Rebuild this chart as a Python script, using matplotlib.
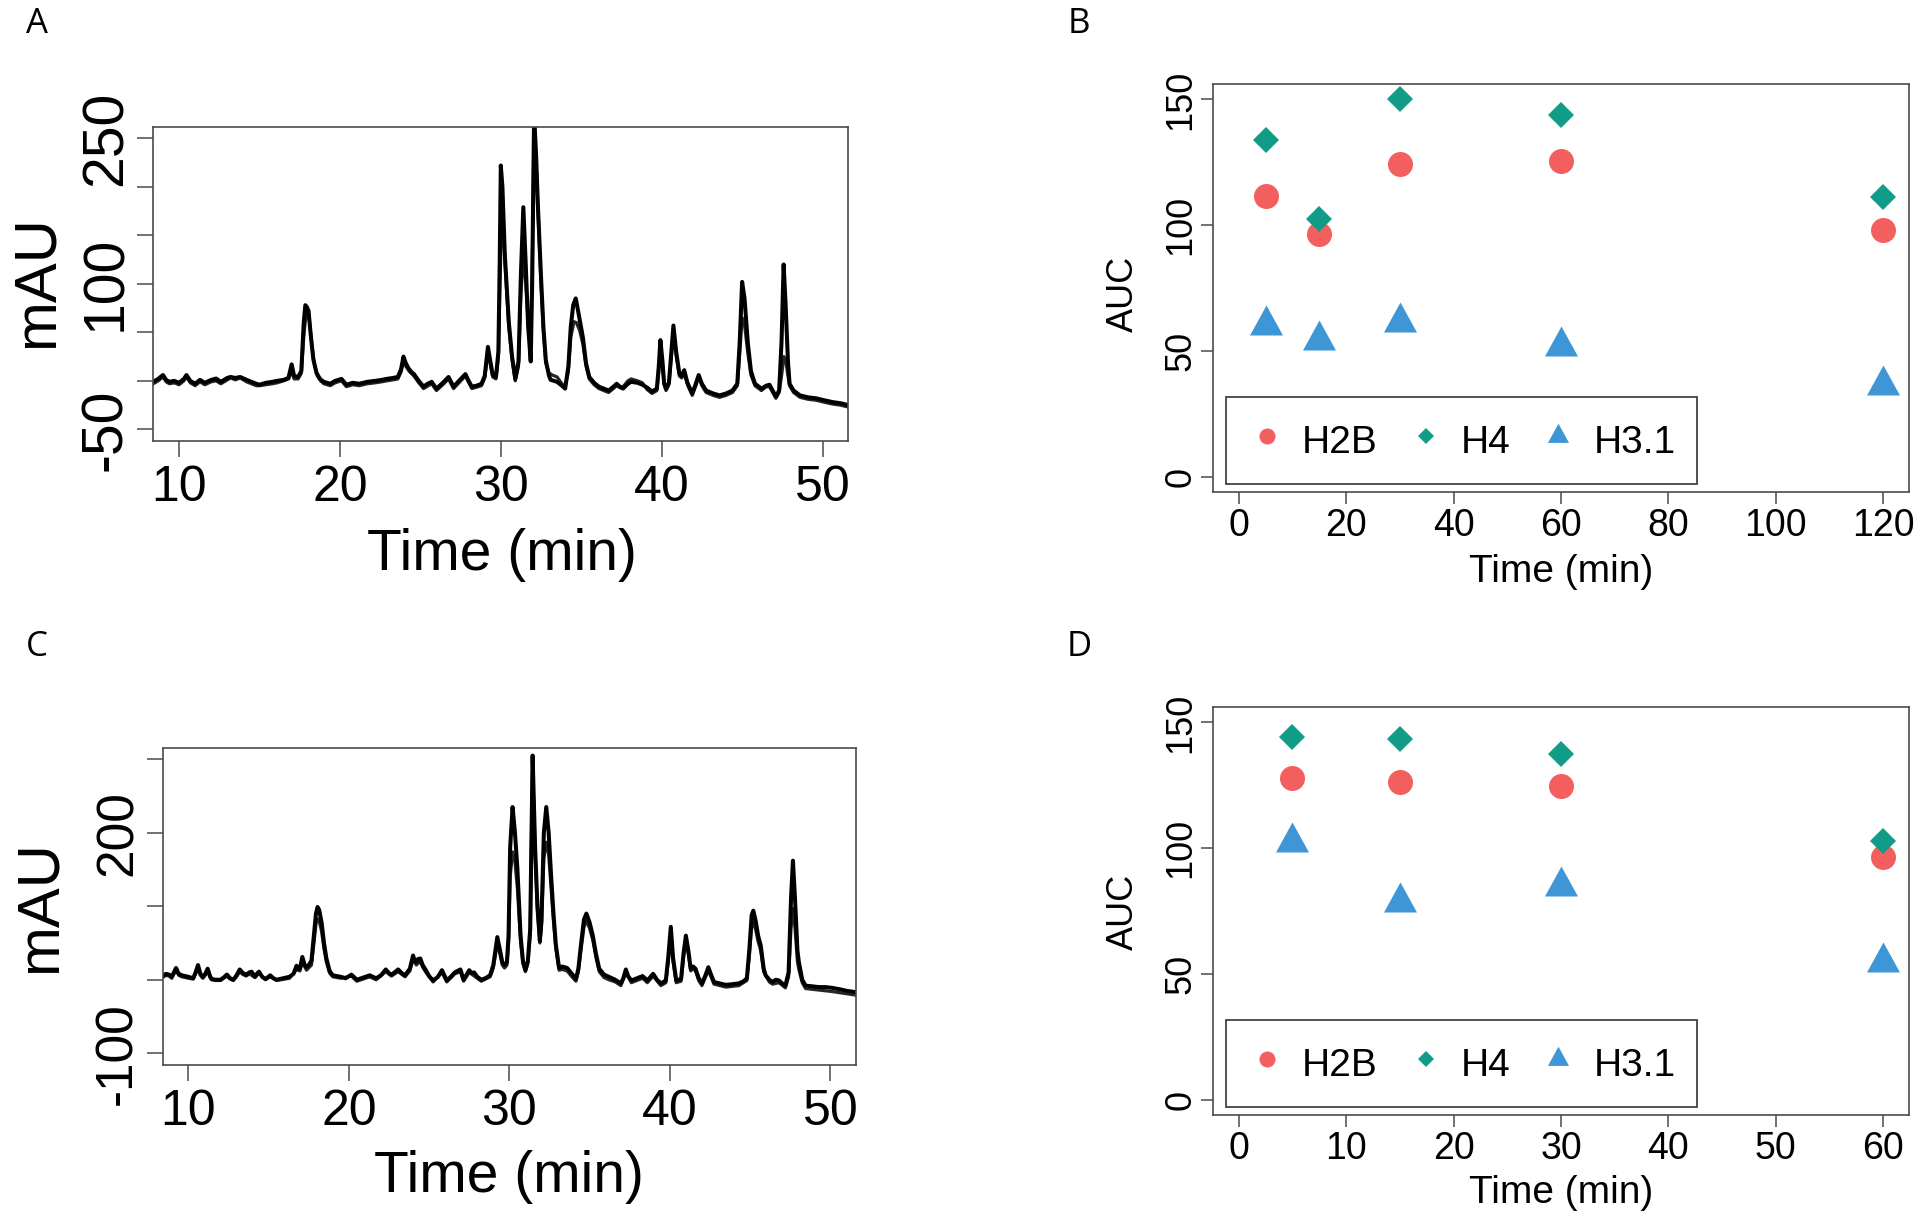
import matplotlib
matplotlib.use("Agg")
import matplotlib.pyplot as plt
from matplotlib.path import Path

plt.rcParams['font.family'] = ['Liberation Sans', 'DejaVu Sans']

# ---------------- data ----------------
# Panel A chromatogram traces: (time [min], absorbance [mAU])
A_trace1 = [(8.4,-1),(8.7,2),(9.0,6),(9.2,1),(9.4,-1),(9.7,0),(10.0,-2),(10.3,2),(10.46,6),(10.7,0),
    (11.0,-3),(11.3,1),(11.6,-2),(12.0,1),(12.3,2.4),(12.6,-1),(13.0,3),(13.2,4),(13.5,3),(13.8,4),
    (14.2,1),(14.5,-1),(14.8,-3),(15.0,-4),(15.4,-2),(15.8,-1),(16.1,0),(16.5,1),(16.8,3),(17.0,17),
    (17.15,5),(17.4,4),(17.6,10),(17.75,60),(17.85,78),(17.95,76),(18.05,72),(18.2,45),(18.35,22),(18.55,8),
    (18.76,2),(19.0,-1),(19.4,-3),(19.7,0),(20.1,2),(20.4,-4),(20.8,-2),(21.2,-3),(21.7,-1),(22.2,0),
    (22.6,1),(22.9,2),(23.3,3),(23.6,4),(23.8,12),(23.95,25),(24.1,18),(24.26,13),(24.45,9),(24.6,7),
    (24.9,0),(25.2,-6),(25.45,-3),(25.7,-1),(26.0,-8),(26.4,-2),(26.75,4),(27.06,-6),(27.4,0),(27.8,7),
    (28.0,0),(28.2,-6),(28.5,-5),(28.8,-3),(29.0,5),(29.2,35),(29.35,20),(29.5,6),(29.7,4),(29.85,30),
    (29.93,120),(30.0,222),(30.1,200),(30.25,130),(30.5,60),(30.7,25),(30.9,2),(31.1,20),(31.25,110),(31.4,179),
    (31.55,120),(31.7,56),(31.86,20),(31.95,100),(32.07,275),(32.2,230),(32.3,183),(32.5,107),(32.65,55),(32.8,21),
    (33.0,5),(33.1,1),(33.5,-1),(33.8,-5),(34.0,-8),(34.2,15),(34.35,56),(34.5,78),(34.66,85),(34.85,68),
    (35.1,45),(35.3,18),(35.5,4),(35.8,-2),(36.1,-6),(36.4,-8),(36.7,-10),(37.0,-6),(37.2,-3),(37.4,-6),
    (37.6,-8),(37.9,-3),(38.1,-1),(38.5,-2),(38.8,-4),(39.1,-7),(39.4,-11),(39.7,-8),(39.82,15),(39.92,42),
    (40.05,20),(40.15,-2),(40.27,-8),(40.45,-2),(40.6,30),(40.73,57),(40.9,30),(41.1,7.5),(41.25,5),(41.4,11),
    (41.6,-2),(41.9,-13),(42.1,-4),(42.3,6),(42.5,-3),(42.76,-10),(43.2,-13),(43.6,-15),(44.0,-13),(44.4,-10),
    (44.7,-3),(44.85,40),(45.0,102),(45.15,85),(45.36,38),(45.55,10),(45.8,-3),(46.2,-8),(46.5,-5),(46.7,-4),
    (46.9,-10),(47.1,-16),(47.3,-10),(47.45,40),(47.58,120),(47.7,80),(47.85,20),(47.95,-3),(48.2,-10),(48.6,-15),
    (49.1,-17),(49.6,-18),(50.1,-20),(50.65,-22),(51.1,-23),(51.6,-25)]

A_trace2 = [(8.4,-3),(8.7,0),(9.0,4),(9.2,-1),(9.4,-3),(9.7,-2),(10.0,-4),(10.3,0),(10.46,4),(10.7,-2),
    (11.0,-5),(11.3,-1),(11.6,-4),(12.0,-1),(12.3,0),(12.6,-3),(13.0,1),(13.2,3),(13.5,1),(13.8,3),
    (14.2,-1),(14.5,-3),(14.8,-5),(15.0,-5),(15.4,-4),(15.8,-3),(16.1,-2),(16.5,0),(16.8,2),(17.0,10),
    (17.15,2),(17.4,2),(17.6,8),(17.75,45),(17.9,70),(18.0,68),(18.1,62),(18.25,38),(18.4,18),(18.6,5),
    (18.8,0),(19.0,-3),(19.4,-5),(19.7,-2),(20.1,0),(20.4,-6),(20.8,-4),(21.2,-5),(21.7,-3),(22.2,-2),
    (22.6,-1),(22.9,0),(23.3,1),(23.6,2),(23.8,9),(23.95,20),(24.1,15),(24.3,10),(24.6,5),(24.9,-2),
    (25.2,-8),(25.7,-3),(26.0,-10),(26.4,-4),(26.75,2),(27.06,-8),(27.4,-2),(27.8,5),(28.2,-8),(28.8,-5),
    (29.0,3),(29.2,30),(29.35,17),(29.5,4),(29.7,2),(29.85,25),(29.95,100),(30.05,168),(30.15,160),(30.3,110),
    (30.5,55),(30.7,22),(30.9,0),(31.1,15),(31.25,90),(31.4,131),(31.55,100),(31.7,60),(31.86,55),(31.95,110),
    (32.07,270),(32.2,225),(32.3,178),(32.5,100),(32.65,50),(32.8,18),(33.0,8),(33.2,6),(33.5,4),(33.8,-3),
    (34.0,-6),(34.2,10),(34.35,45),(34.55,61),(34.7,60),(34.9,52),(35.1,38),(35.3,15),(35.5,2),(35.8,-4),
    (36.1,-8),(36.4,-10),(36.7,-12),(37.0,-8),(37.2,-5),(37.4,-7),(37.6,-6),(37.9,0),(38.1,2),(38.5,0),
    (38.8,-2),(39.1,-9),(39.4,-13),(39.7,-10),(39.82,10),(39.92,35),(40.05,15),(40.15,-4),(40.27,-10),(40.45,-4),
    (40.6,25),(40.73,50),(40.9,26),(41.1,5),(41.25,3),(41.4,9),(41.6,-4),(41.9,-15),(42.1,-6),(42.3,4),
    (42.5,-5),(42.76,-12),(43.2,-15),(43.6,-17),(44.0,-15),(44.4,-12),(44.7,-5),(44.85,28),(45.0,65),(45.15,58),
    (45.36,28),(45.55,6),(45.8,-5),(46.2,-10),(46.5,-6),(46.7,-6),(46.9,-12),(47.1,-18),(47.3,-12),(47.45,5),
    (47.6,25),(47.72,20),(47.85,5),(47.95,-5),(48.2,-12),(48.6,-17),(49.1,-19),(49.6,-20),(50.1,-22),(50.65,-24),
    (51.1,-25),(51.6,-27)]

# Panel C chromatogram traces
C_trace1 = [(8.4,5),(8.6,8),(8.8,7),(8.96,4),(9.1,10),(9.23,16),(9.4,8),(9.6,6),(9.8,5),(10.0,4),
    (10.3,2),(10.45,10),(10.6,20),(10.75,8),(10.9,4),(11.05,8),(11.2,15),(11.35,5),(11.45,1),(11.7,0),
    (12.0,0),(12.2,3),(12.4,7),(12.6,2),(12.8,0),(13.0,6),(13.2,14),(13.4,9),(13.6,7),(13.8,10),
    (13.94,11),(14.15,4),(14.3,9),(14.4,11),(14.6,4),(14.8,1),(15.1,6),(15.3,2),(15.5,0),(15.9,2),
    (16.3,4),(16.55,8),(16.74,19),(16.85,15),(16.95,15),(17.1,31),(17.25,20),(17.36,17),(17.5,20),(17.67,26),
    (17.8,55),(17.95,90),(18.05,99),(18.15,95),(18.3,78),(18.45,50),(18.6,29),(18.8,12),(19.0,6),(19.5,4),
    (19.8,2),(20.16,7),(20.5,0),(20.9,3),(21.3,6),(21.7,2),(22.0,6),(22.3,14),(22.5,9),(22.65,7),
    (22.85,10),(23.07,14),(23.3,9),(23.5,6),(23.8,15),(24.0,33),(24.1,26),(24.2,24),(24.3,28),(24.45,29),
    (24.6,20),(24.8,13),(25.0,5),(25.25,-1),(25.55,4),(25.8,13),(25.95,6),(26.1,-1),(26.35,4),(26.6,10),
    (26.95,14),(27.15,0),(27.5,13),(27.65,9),(27.8,10),(28.0,4),(28.25,0),(28.5,2),(28.8,6),(29.0,20),
    (29.25,58),(29.4,42),(29.56,24),(29.7,20),(29.85,24),(29.95,60),(30.05,180),(30.2,235),(30.35,200),(30.5,151),
    (30.7,60),(30.85,25),(31.0,13),(31.15,25),(31.3,69),(31.38,200),(31.45,305),(31.52,250),(31.6,183),(31.75,100),
    (31.9,53),(32.0,80),(32.15,200),(32.3,235),(32.45,200),(32.6,142),(32.75,90),(32.9,47),(33.1,16),(33.3,18),
    (33.6,16),(33.9,8),(34.15,1),(34.3,15),(34.46,47),(34.65,82),(34.8,90),(35.0,78),(35.2,60),(35.4,35),
    (35.6,15),(35.9,7),(36.2,4),(36.6,0),(36.95,-5),(37.1,2),(37.26,14),(37.4,5),(37.6,-1),(37.95,2),
    (38.3,5),(38.6,-1),(38.96,8),(39.2,0),(39.44,-5),(39.75,-1),(39.9,30),(40.06,72),(40.2,30),(40.4,-1),
    (40.7,1),(40.85,35),(41.0,60),(41.15,40),(41.3,15),(41.45,18),(41.6,15),(41.8,2),(42.0,-5),(42.2,5),
    (42.4,17),(42.55,8),(42.75,-3),(43.1,-5),(43.5,-7),(43.9,-6),(44.3,-5),(44.6,-2),(44.8,2),(44.95,40),
    (45.1,88),(45.2,94),(45.35,80),(45.5,60),(45.66,47),(45.85,15),(45.97,6),(46.2,0),(46.4,-3),(46.6,0),
    (46.8,-1),(47.0,-5),(47.2,-8),(47.4,10),(47.55,110),(47.67,162),(47.8,110),(47.95,40),(48.04,24),(48.25,0),
    (48.46,-8),(48.9,-9),(49.3,-10),(49.7,-10),(50.1,-11),(50.6,-13),(51.0,-15),(51.6,-17)]

C_trace2 = [(8.4,3),(8.6,6),(8.8,5),(8.96,2),(9.1,8),(9.23,13),(9.4,6),(9.6,4),(9.8,3),(10.0,2),
    (10.3,1),(10.45,8),(10.6,16),(10.75,6),(10.9,2),(11.05,6),(11.2,12),(11.35,3),(11.45,0),(11.7,-1),
    (12.0,-1),(12.2,2),(12.4,5),(12.6,1),(12.8,-1),(13.0,4),(13.2,11),(13.4,7),(13.6,5),(13.8,8),
    (14.15,3),(14.4,9),(14.8,0),(15.1,4),(15.5,-1),(16.3,2),(16.74,14),(16.95,12),(17.1,24),(17.36,13),
    (17.67,20),(17.8,45),(17.95,76),(18.05,83),(18.15,80),(18.3,66),(18.45,42),(18.6,24),(18.8,9),(19.0,4),
    (19.5,2),(20.16,5),(20.5,-2),(21.3,4),(21.7,0),(22.3,11),(22.65,5),(23.07,11),(23.5,4),(23.8,12),
    (24.0,28),(24.2,20),(24.45,25),(24.6,17),(24.8,10),(25.25,-3),(25.8,10),(26.1,-3),(26.6,8),(26.95,11),
    (27.15,-2),(27.5,10),(28.0,2),(28.25,-2),(28.8,4),(29.0,16),(29.25,50),(29.4,36),(29.56,20),(29.7,16),
    (29.85,20),(29.95,50),(30.05,140),(30.2,174),(30.35,160),(30.5,125),(30.7,52),(30.85,22),(31.0,11),(31.15,22),
    (31.3,62),(31.38,190),(31.45,290),(31.52,240),(31.6,175),(31.75,95),(31.9,50),(32.0,72),(32.15,165),(32.3,187),
    (32.45,170),(32.6,125),(32.75,80),(32.9,42),(33.1,13),(33.3,14),(33.6,12),(33.9,4),(34.15,-2),(34.3,11),
    (34.46,40),(34.65,72),(34.8,80),(35.0,70),(35.2,54),(35.4,30),(35.6,11),(35.9,3),(36.2,0),(36.6,-3),
    (36.95,-8),(37.26,10),(37.6,-4),(38.3,2),(38.6,-4),(38.96,5),(39.44,-8),(39.75,-4),(39.9,25),(40.06,65),
    (40.2,25),(40.4,-4),(40.7,-2),(40.85,30),(41.0,55),(41.15,36),(41.3,12),(41.45,15),(41.6,12),(41.8,-1),
    (42.0,-8),(42.4,13),(42.75,-6),(43.5,-10),(44.3,-8),(44.8,-1),(44.95,32),(45.1,72),(45.2,78),(45.35,68),
    (45.5,52),(45.66,40),(45.85,11),(46.2,-3),(46.4,-6),(46.8,-4),(47.2,-11),(47.4,4),(47.55,70),(47.67,97),
    (47.8,70),(47.95,25),(48.04,14),(48.25,-4),(48.46,-12),(49.3,-14),(50.1,-16),(51.0,-19),(51.6,-21)]

# Panels B and D: AUC versus time
B_time = [5, 15, 30, 60, 120]
B_H2B = [111.7, 96.4, 124.4, 125.6, 98.0]
B_H4 = [133.9, 102.5, 150.0, 143.8, 111.3]
B_H31 = [60.2, 54.3, 61.4, 51.8, 36.3]

D_time = [5, 15, 30, 60]
D_H2B = [128.0, 126.3, 124.9, 96.3]
D_H4 = [144.1, 143.5, 137.6, 102.8]
D_H31 = [102.3, 78.5, 84.9, 54.6]

series_names = ["H2B", "H4", "H3.1"]
series_colors = ["#F35E5E", "#119C88", "#3E96D6"]

A_xticks = [10, 20, 30, 40, 50]
A_yticks = [-50, 0, 50, 100, 150, 200, 250]
A_ylabels = ["-50", "", "", "100", "", "", "250"]
C_xticks = [10, 20, 30, 40, 50]
C_yticks = [-100, 0, 100, 200, 300]
C_ylabels = ["-100", "", "", "200", ""]
B_xticks = [0, 20, 40, 60, 80, 100, 120]
D_xticks = [0, 10, 20, 30, 40, 50, 60]
BD_yticks = [0, 50, 100, 150]

# ---------------- figure ----------------
W, H = 1920, 1222
fig = plt.figure(figsize=(W / 100, H / 100), dpi=100)
SPINE = "#4a4a4a"


def add_ax(l, t, r, b):
    return fig.add_axes([l / W, 1 - b / H, (r - l) / W, (b - t) / H])


def style(ax, ticklen, xsize, ysize, xpad, ypad):
    for s in ax.spines.values():
        s.set_color(SPINE)
        s.set_linewidth(1.2)
    ax.tick_params(axis="both", direction="out", length=ticklen, width=1.1,
                   color=SPINE, labelcolor="black")
    ax.tick_params(axis="x", pad=xpad, labelsize=xsize)
    ax.tick_params(axis="y", pad=ypad, labelsize=ysize, labelrotation=90)
    for lab in ax.get_yticklabels():
        lab.set_verticalalignment("center")


def chrom(ax, traces, xticks, yticks, ylabels, ylim, ysize, xl, yl):
    for tr, col, lw in zip(traces, ["#262626", "black"], [2.3, 2.9]):
        ax.plot([p[0] for p in tr], [p[1] for p in tr], color=col, lw=lw,
                solid_joinstyle="round")
    ax.set_xlim(8.4, 51.6)
    ax.set_ylim(*ylim)
    ax.set_xticks(xticks)
    ax.set_yticks(yticks)
    ax.set_yticklabels(ylabels)
    style(ax, 11.5, 36, ysize, 5.5, 3)
    ax.set_xlabel("Time (min)", fontsize=41, va="center")
    ax.set_ylabel("mAU", fontsize=43, va="center", ha="center")
    ax.xaxis.set_label_coords(*xl)
    ax.yaxis.set_label_coords(*yl)


tri = Path([(0, 20), (-16.5, -10), (16.5, -10), (0, 20)],
           [Path.MOVETO, Path.LINETO, Path.LINETO, Path.CLOSEPOLY])
markers = ["o", "D", tri]
msizes = [18, 13.5, 28.8]


def auc(ax, t, ys, xticks, xlim, xl, yl):
    handles = []
    for y, m, ms, c, n in zip(ys, markers, msizes, series_colors, series_names):
        h, = ax.plot(t, y, linestyle="none", marker=m, markersize=ms,
                     markerfacecolor=c, markeredgewidth=0, label=n)
        handles.append(h)
    ax.set_xlim(*xlim)
    ax.set_ylim(-6, 156)
    ax.set_xticks(xticks)
    ax.set_yticks(BD_yticks)
    style(ax, 8.4, 27, 26, 3.5, 2)
    ax.set_xlabel("Time (min)", fontsize=28, va="center")
    ax.set_ylabel("AUC", fontsize=26, va="center", ha="center")
    ax.xaxis.set_label_coords(*xl)
    ax.yaxis.set_label_coords(*yl)
    leg = ax.legend(handles, series_names, ncol=3, loc="lower left",
                    bbox_to_anchor=(0.0187, 0.019), borderaxespad=0,
                    fontsize=28, markerscale=0.64, handlelength=1.0,
                    handleheight=1.35,
                    handletextpad=0.4, columnspacing=0.73, borderpad=0.56,
                    fancybox=False, framealpha=1, edgecolor="#333333")
    leg.get_frame().set_linewidth(1.2)


axA = add_ax(153.3, 126.7, 848.3, 441.0)
chrom(axA, [A_trace2, A_trace1], A_xticks, A_yticks, A_ylabels, (-62, 262), 41,
      (0.5017, -0.362), (-0.167, 0.506))

axC = add_ax(162.7, 747.5, 856.0, 1065.0)
chrom(axC, [C_trace2, C_trace1], C_xticks, C_yticks, C_ylabels, (-116, 316), 37,
      (0.4995, -0.352), (-0.177, 0.5))

axB = add_ax(1213, 84.3, 1909, 491.7)
auc(axB, B_time, [B_H2B, B_H4, B_H31], B_xticks, (-4.8, 124.8),
    (0.5, -0.198), (-0.128, 0.485))

axD = add_ax(1213, 707.3, 1909, 1114.7)
auc(axD, D_time, [D_H2B, D_H4, D_H31], D_xticks, (-2.4, 62.4),
    (0.5, -0.193), (-0.128, 0.4975))

for lab, x, y in [("A", 37, 24), ("B", 1079, 24), ("C", 37, 647), ("D", 1079, 647)]:
    fig.text(x / W, 1 - y / H, lab, fontsize=25, family=["Open Sans", "DejaVu Sans"],
             ha="center", va="center")

fig.savefig("out.png", dpi=100, facecolor="white")
